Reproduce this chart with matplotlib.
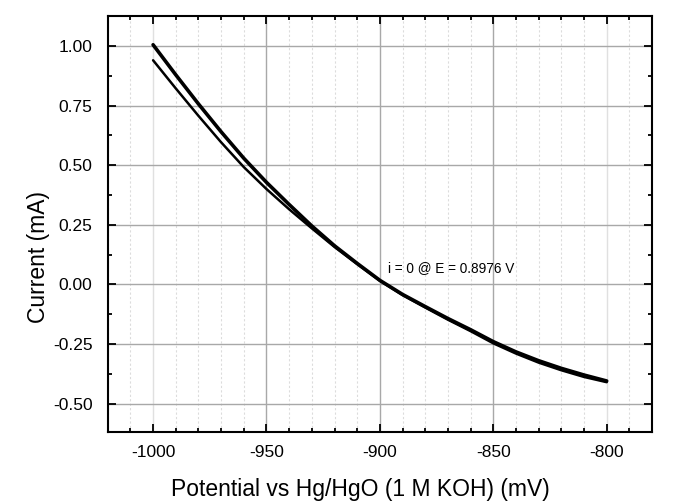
import matplotlib.pyplot as plt
from matplotlib.ticker import MultipleLocator, FormatStrFormatter

plt.rcParams['font.family'] = ['Liberation Sans', 'DejaVu Sans']
plt.rcParams['axes.unicode_minus'] = False

# Potential (mV) and current (mA) for the two sweep directions
potential = [-1000, -990, -980, -970, -960, -950, -940, -930, -920, -910, -900,
             -890, -880, -870, -860, -850, -840, -830, -820, -810, -800]
current_fwd = [1.005, 0.879, 0.757, 0.640, 0.529, 0.428, 0.335, 0.245, 0.162, 0.088, 0.017,
               -0.042, -0.093, -0.143, -0.190, -0.240, -0.283, -0.320, -0.352, -0.380, -0.405]
current_rev = [0.940, 0.822, 0.707, 0.596, 0.492, 0.400, 0.315, 0.235, 0.157, 0.085, 0.015,
               -0.045, -0.097, -0.148, -0.196, -0.247, -0.290, -0.328, -0.360, -0.388, -0.410]

x_ticks = [-1000, -950, -900, -850, -800]
y_ticks = [-0.50, -0.25, 0.00, 0.25, 0.50, 0.75, 1.00]
note = "i = 0 @ E = 0.8976 V"

fig = plt.figure(figsize=(6.75, 5.01), dpi=100)
ax = fig.add_axes([0.1596, 0.1377, 0.8064, 0.831])

ax.plot(potential, current_fwd, color='black', lw=2.6, solid_capstyle='round')
ax.plot(potential, current_rev, color='black', lw=1.8, solid_capstyle='round')

ax.set_xlim(-1020, -780)
ax.set_ylim(-0.619, 1.127)
ax.set_xticks(x_ticks)
ax.set_yticks(y_ticks)
ax.xaxis.set_minor_locator(MultipleLocator(10))
ax.yaxis.set_minor_locator(MultipleLocator(0.125))
ax.yaxis.set_major_formatter(FormatStrFormatter('%.2f'))

ax.grid(True, which='major', color='#a8a8a8', lw=1.0, ls='-')
ax.grid(True, which='minor', axis='x', color='#dcdcdc', lw=0.8, ls=(0, (2, 2)))
ax.set_axisbelow(True)
# the outer vertical gridlines are drawn fainter
xg = ax.get_xgridlines()
xg[0].set_color('#e0e0e0')
xg[-1].set_color('#e0e0e0')

for s in ax.spines.values():
    s.set_linewidth(1.5)
ax.tick_params(which='both', direction='in', top=True, right=True, width=1.3)
ax.tick_params(which='major', length=6, labelsize=12.5)
ax.tick_params(axis='x', which='major', pad=9.5)
ax.tick_params(axis='y', which='major', pad=11)
ax.tick_params(which='minor', length=3)

ax.text(-896.5, 0.068, note, ha='left', va='center', fontsize=9.8)

ax.set_xlabel("Potential vs Hg/HgO (1 M KOH) (mV)", fontsize=16.5, va='center')
ax.set_ylabel("Current (mA)", fontsize=16.5, va='center')
ax.xaxis.set_label_coords(0.4635, -0.139)
ax.yaxis.set_label_coords(-0.128, 0.42)

fig.savefig('out.png', dpi=100, facecolor='white')
